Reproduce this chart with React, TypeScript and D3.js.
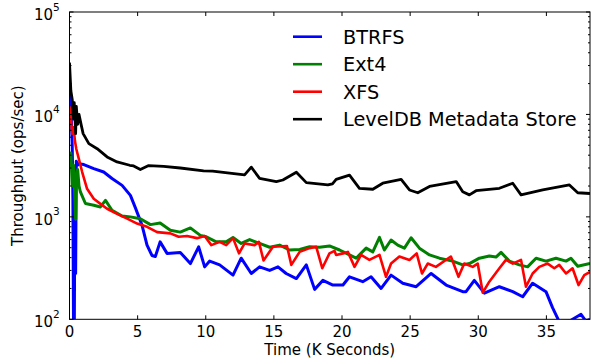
import React from "react";
import * as d3 from "d3";

// time in K seconds, throughput in ops/sec
const btrfs: [number, number][] = [
  [0, 22000], [0.1, 12000], [0.2, 5000], [0.25, 1500], [0.3, 60], [0.35, 60], [0.4, 2500], [0.45, 280],
  [0.5, 3500], [0.6, 3200], [0.68, 3300], [1.05, 3240], [1.78, 2960], [2.51, 2740], [3.12, 2370],
  [3.86, 2030], [4.47, 1620], [4.83, 1230], [5.32, 830], [5.69, 530], [6.05, 420], [6.3, 410],
  [6.65, 570], [7.16, 440], [8.13, 450], [8.87, 350], [9.48, 510], [9.92, 325], [10.29, 370],
  [11.02, 340], [12, 270], [12.6, 395], [13.34, 280], [13.95, 325], [14.69, 300], [15.3, 325],
  [15.9, 280], [16.65, 250], [17.38, 340], [17.99, 196], [18.6, 240], [19.33, 216], [20.07, 216],
  [20.55, 260], [21.52, 233], [22.13, 260], [22.87, 200], [23.6, 270], [24.46, 225], [25.44, 208],
  [26.54, 280], [27.64, 216], [28.86, 186], [29.1, 186], [29.71, 240], [30.45, 180], [31.55, 208],
  [32.53, 186], [33.26, 166], [33.99, 225], [34.97, 186], [35.45, 130], [35.94, 95], [36.8, 98],
  [37.54, 112], [37.9, 96], [38.2, 100]
];

const ext4: [number, number][] = [
  [0, 3500], [0.1, 4200], [0.2, 2000], [0.3, 3200], [0.4, 1500], [0.45, 950], [0.5, 2500], [0.6, 2900],
  [0.7, 2000], [0.8, 1750], [1.17, 1350], [1.78, 1300], [2.27, 1250], [2.64, 1450], [3.12, 1160],
  [3.86, 1020], [4.47, 1000], [5.2, 960], [5.94, 840], [6.65, 870], [7.4, 740], [8.13, 710], [8.87, 780],
  [9.6, 660], [10.04, 640], [10.77, 570], [11.5, 570], [12, 630], [12.6, 550], [13.22, 600], [13.95, 550],
  [14.69, 505], [15.42, 530], [16.15, 475], [16.89, 480], [17.62, 510], [18.35, 505], [19.08, 520],
  [19.82, 475], [20.55, 425], [21.04, 395], [21.77, 495], [22.26, 455], [22.75, 630], [23.11, 475],
  [23.6, 595], [24.09, 530], [24.58, 495], [25.07, 625], [25.68, 495], [26.42, 425], [27.15, 395],
  [28.12, 370], [28.86, 340], [29.35, 350], [30.08, 395], [30.81, 415], [31.3, 405], [31.67, 450],
  [32.28, 370], [33.01, 340], [33.62, 325], [34.24, 395], [34.97, 370], [35.7, 395], [36.44, 370],
  [36.8, 395], [37.3, 330], [38.2, 350]
];

const xfs: [number, number][] = [
  [0, 12000], [0.1, 9000], [0.2, 6500], [0.3, 7500], [0.4, 5500], [0.5, 4600], [0.68, 3700], [0.93, 2740],
  [1.29, 1880], [1.78, 1500], [2.27, 1340], [2.76, 1200], [3.49, 1070], [4.23, 960], [4.96, 860],
  [5.69, 800], [6.43, 710], [7.4, 690], [8.01, 640], [8.62, 650], [9.36, 620], [9.92, 650], [10.41, 530],
  [11.02, 570], [11.5, 530], [12, 620], [12.44, 440], [12.85, 550], [13.58, 530], [13.9, 570],
  [14.24, 375], [14.93, 510], [15.96, 520], [16.28, 340], [16.89, 455], [17.62, 495], [18.11, 510],
  [18.55, 315], [19.08, 440], [19.45, 465], [19.57, 425], [20.07, 440], [20.43, 455], [20.92, 325],
  [21.4, 425], [22.01, 380], [22.75, 425], [23.23, 260], [23.6, 350], [24.21, 410], [24.95, 380],
  [25.48, 440], [25.87, 280], [26.29, 350], [26.89, 325], [27.99, 410], [28.55, 260], [28.97, 350],
  [29.59, 325], [29.96, 350], [30.33, 182], [30.81, 233], [31.55, 315], [32.03, 380], [32.53, 350],
  [33.14, 380], [33.5, 208], [33.99, 280], [34.48, 325], [35.09, 350], [35.58, 315], [35.94, 340],
  [36.44, 280], [36.92, 315], [37.36, 216], [37.78, 270], [38.2, 290]
];

const leveldb: [number, number][] = [
  [0, 32000], [0.1, 17000], [0.2, 14000], [0.3, 9000], [0.35, 13000], [0.45, 6500], [0.5, 12000],
  [0.6, 8000], [0.7, 10000], [0.85, 8000], [1.0, 6500], [1.42, 5190], [2.03, 4630], [2.76, 3850],
  [3.49, 3440], [4.42, 3190], [4.71, 3140], [5.2, 2900], [5.81, 3170], [6.91, 3110], [8.13, 3000],
  [9.84, 2810], [10.5, 2800], [12.85, 2570], [13.34, 3060], [13.95, 2380], [15.18, 2210], [15.66, 2290],
  [16.65, 2730], [17.38, 2160], [18.96, 2050], [19.3, 2100], [19.57, 2320], [20.55, 2560], [21.28, 1900],
  [22.26, 1860], [22.99, 2130], [24.34, 2320], [24.95, 1830], [25.56, 1720], [26.42, 1980], [28.38, 2210],
  [28.86, 1760], [29.35, 1640], [29.84, 1800], [31.55, 1900], [32.53, 2130], [33.14, 1640], [34.73, 1830],
  [36.69, 2050], [37.3, 1720], [38.2, 1690]
];

const seriesNames = ["BTRFS", "Ext4", "XFS", "LevelDB Metadata Store"];
const seriesColors = ["#0000ff", "#008000", "#ff0000", "#000000"];
const seriesWidths = [3, 3, 2.6, 2.8];
const xTickValues = [0, 5, 10, 15, 20, 25, 30, 35];
const yMajorTicks = [100, 1000, 10000, 100000];

const W = 592, H = 361;
const left = 69.5, right = 590, top = 12, bottom = 319.3;
const font = "DejaVu Sans, sans-serif";

export default function App() {
  const x = d3.scaleLinear().domain([0, 38.2]).range([left, right]);
  const y = d3.scaleLog().domain([100, 100000]).range([bottom, top]);
  const line = d3.line<[number, number]>()
    .x(d => x(d[0]))
    .y(d => y(Math.max(d[1], 1)));

  const all = [btrfs, ext4, xfs, leveldb];
  const minor = y.ticks().filter(v => !yMajorTicks.includes(v));

  return (
    <svg width={W} height={H} style={{ position: "absolute", left: 0, top: 0 }} fontFamily={font}>
      <rect width={W} height={H} fill="#fff" />
      <defs>
        <clipPath id="plot">
          <rect x={left} y={top} width={right - left} height={bottom - top} />
        </clipPath>
      </defs>
      <g clipPath="url(#plot)">
        {all.map((s, i) => (
          <path key={i} d={line(s) || ""} fill="none" stroke={seriesColors[i]}
            strokeWidth={seriesWidths[i]} strokeLinejoin="round" />
        ))}
      </g>
      <rect x={left} y={top} width={right - left} height={bottom - top} fill="none" stroke="#000" strokeWidth={1} />
      {/* x ticks, inward on top and bottom */}
      {xTickValues.map(t => (
        <g key={"x" + t}>
          <line x1={x(t)} x2={x(t)} y1={bottom} y2={bottom - 4} stroke="#000" />
          <line x1={x(t)} x2={x(t)} y1={top} y2={top + 4} stroke="#000" />
          <text x={x(t)} y={bottom + 18} textAnchor="middle" fontSize={15}>{t}</text>
        </g>
      ))}
      {yMajorTicks.map(v => (
        <g key={"y" + v}>
          <line x1={left} x2={left + 4} y1={y(v)} y2={y(v)} stroke="#000" />
          <line x1={right} x2={right - 4} y1={y(v)} y2={y(v)} stroke="#000" />
          <text x={53} y={y(v) + 8} textAnchor="end" fontSize={15}>10</text>
          <text x={53} y={y(v) - 1.5} textAnchor="start" fontSize={10.5}>{Math.round(Math.log10(v))}</text>
        </g>
      ))}
      {minor.map(v => (
        <g key={"m" + v}>
          <line x1={left} x2={left + 2} y1={y(v)} y2={y(v)} stroke="#000" />
          <line x1={right} x2={right - 2} y1={y(v)} y2={y(v)} stroke="#000" />
        </g>
      ))}
      <text x={(left + right) / 2} y={355} textAnchor="middle" fontSize={15}>Time (K Seconds)</text>
      <text transform={`translate(23,${(top + bottom) / 2}) rotate(-90)`} textAnchor="middle" fontSize={15}>
        Throughput (ops/sec)
      </text>
      {/* legend, no frame */}
      {seriesNames.map((n, i) => (
        <g key={n} transform={`translate(0,${36.7 + i * 27.5})`}>
          <line x1={293} x2={322} y1={0} y2={0} stroke={seriesColors[i]} strokeWidth={2.6} />
          <text x={343} y={0} dy="0.36em" fontSize={19.3}>{n}</text>
        </g>
      ))}
    </svg>
  );
}
